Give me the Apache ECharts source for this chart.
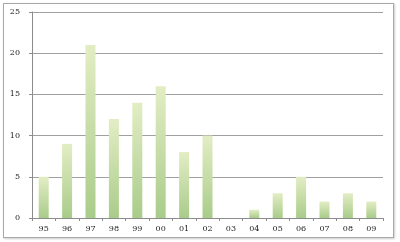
<!DOCTYPE html>
<html><head><meta charset="utf-8">
<script src="https://cdn.jsdelivr.net/npm/echarts@6/dist/echarts.min.js"></script>
<style>
html,body{margin:0;padding:0;background:#fff;}
#frame{position:absolute;left:3px;top:3px;width:389px;height:233px;border:1px solid #a8a8a8;box-shadow:1px 1px 2px #ccc;}
#c{position:absolute;left:0;top:0;width:400px;height:242px;}
</style>
</head><body>
<div id="frame"></div>
<div id="c"></div>
<script>
const categories = ['95','96','97','98','99','00','01','02','03','04','05','06','07','08','09'];
const values = [5, 9, 21, 12, 14, 16, 8, 10, 0, 1, 3, 5, 2, 3, 2];
const yTicks = [0, 5, 10, 15, 20, 25];

const chart = echarts.init(document.getElementById('c'), null, {renderer:'canvas'});
const font = 'DejaVu Serif';
chart.setOption({
  animation:false,
  grid:{left:32, right:17, top:12, bottom:24},
  xAxis:{
    type:'category', data:categories,
    axisLine:{lineStyle:{color:'#8c8c8c', width:1}},
    axisTick:{show:true, alignWithLabel:false, length:3, lineStyle:{color:'#8c8c8c'}},
    axisLabel:{color:'#222', fontFamily:font, fontSize:8, margin:7}
  },
  yAxis:{
    type:'value', min:yTicks[0], max:yTicks[yTicks.length-1], interval:5,
    axisLine:{show:true, lineStyle:{color:'#8c8c8c'}},
    axisTick:{show:true, length:3, lineStyle:{color:'#8c8c8c'}},
    splitLine:{lineStyle:{color:'#a0a0a0', width:1}},
    axisLabel:{color:'#222', fontFamily:font, fontSize:8, margin:12}
  },
  series:[{
    type:'bar', data:values, barWidth:10,
    itemStyle:{color:new echarts.graphic.LinearGradient(0,0,0,1,[
      {offset:0,color:'#e3edc4'},{offset:1,color:'#a9cc8a'}
    ])}
  }]
});
</script>
</body></html>
